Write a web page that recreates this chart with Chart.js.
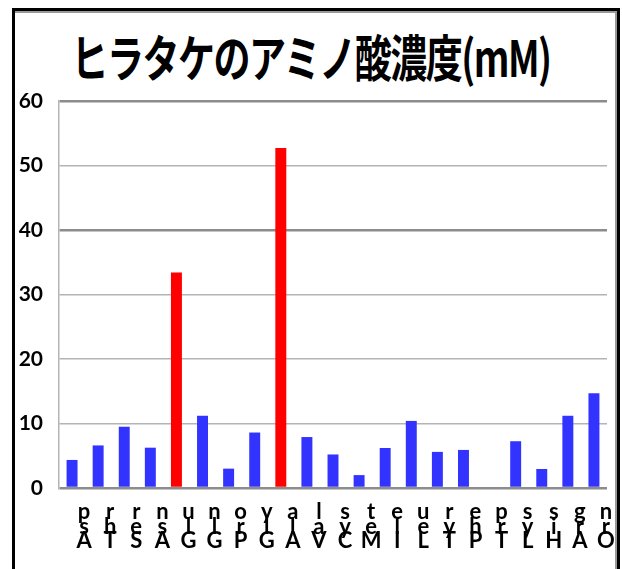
<!DOCTYPE html>
<html><head><meta charset="utf-8">
<script src="https://cdn.jsdelivr.net/npm/chart.js@4/dist/chart.umd.min.js"></script>
<style>
html,body{margin:0;padding:0;background:#fff;}
#wrap{position:relative;width:622px;height:569px;overflow:hidden;}
#frame{position:absolute;left:12px;top:8px;width:608px;height:600px;border:3px solid #000;box-sizing:border-box;}
#frame:after{content:"";position:absolute;left:0;top:0;right:0;bottom:0;border-top:2px solid #999;border-right:2px solid #999;}
#title{position:absolute;left:-200px;top:20px;width:1022px;text-align:center;white-space:nowrap;font-family:"Noto Sans CJK JP";font-weight:700;font-size:50px;line-height:70px;transform:scaleX(0.74);letter-spacing:-2px;color:#000;}
canvas{position:absolute;left:0;top:0;}
</style></head>
<body><div id="wrap">
<div id="frame"></div>
<div id="title">ヒラタケのアミノ酸濃度(mM)</div>
<canvas id="c" width="622" height="569"></canvas>
</div>
<script>
const categories = ["Asp","Thr","Ser","Asn","Glu","Gln","Pro","Gly","Ala","Val","Cys","Met","Ile","Leu","Tyr","Phe","Trp","Lys","His","Arg","Orn"];
const values = [4.35,6.6,9.5,6.25,33.4,11.2,3.0,8.6,52.7,7.9,5.2,2.0,6.2,10.4,5.6,5.9,0,7.25,2.95,11.2,14.7];
const highlighted = ["Glu","Ala"];
const yTicks = [0,10,20,30,40,50,60];

const barColors = categories.map(c => highlighted.includes(c) ? "#ff0000" : "#3333ff");
// labels drawn as stacked letters (bottom-to-top reading)
const stackedLabels = categories.map(c => c.split("").reverse());

new Chart(document.getElementById("c"), {
  type: "bar",
  data: {
    labels: stackedLabels,
    datasets: [{
      data: values,
      backgroundColor: barColors,
      barPercentage: 0.42,
      categoryPercentage: 1.0
    }]
  },
  options: {
    responsive: false,
    animation: false,
    layout: { padding: { left: 0, right: 15, top: 101, bottom: 0 } },
    plugins: { legend: { display: false }, title: { display: false }, tooltip: { enabled: false } },
    scales: {
      x: {
        grid: { display: false },
        border: { display: false },
        ticks: {
          color: "#000",
          maxRotation: 0, minRotation: 0, autoSkip: false,
          labelOffset: 12,
          padding: 8,
          font: { family: "Lato", weight: "bold", size: 22, lineHeight: 0.68 }
        },
        afterFit: s => { s.height = 81; }
      },
      y: {
        min: 0, max: 60,
        afterBuildTicks: s => { s.ticks = yTicks.map(v => ({ value: v })); },
        grid: {
          color: ctx => (ctx.tick && (ctx.tick.value === 60 || ctx.tick.value === 40 || ctx.tick.value === 0)) ? "#8c8c8c" : "#b4b4b4",
          lineWidth: ctx => (ctx.tick && (ctx.tick.value === 60 || ctx.tick.value === 40 || ctx.tick.value === 0)) ? 2.5 : 1.5,
          drawTicks: false
        },
        border: { display: true, color: "#b4b4b4", width: 1.5 },
        ticks: {
          color: "#000",
          padding: 16,
          font: { family: "Lato", weight: "bold", size: 21 }
        },
        afterFit: s => { s.width = 59; }
      }
    }
  }
});
</script>
</body></html>
